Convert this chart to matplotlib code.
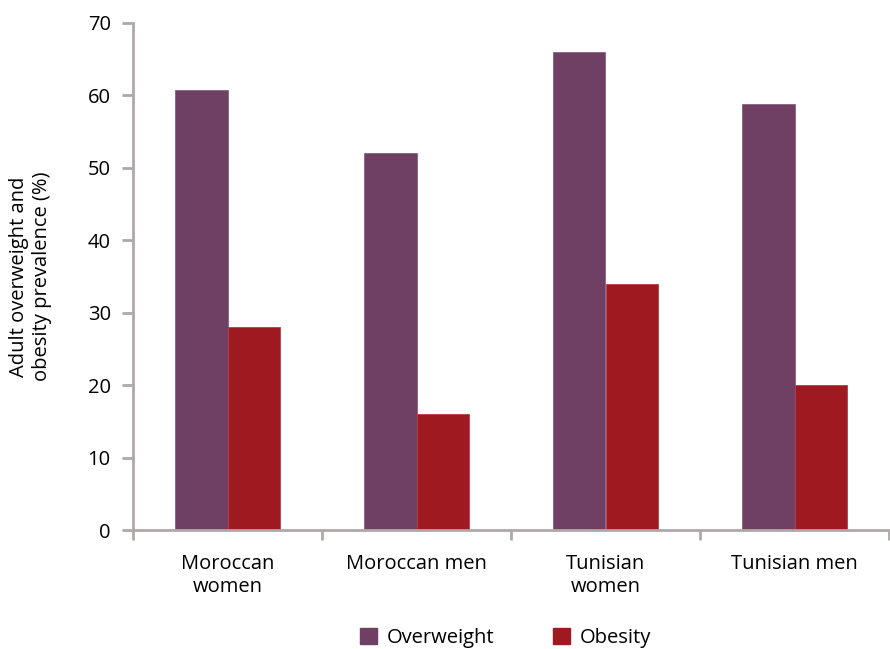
import numpy as np
import matplotlib.pyplot as plt
from matplotlib.patches import Patch

groups = ['Moroccan\nwomen', 'Moroccan men', 'Tunisian\nwomen', 'Tunisian men']
overweight = [60.8, 52.0, 66.0, 58.8]
obesity = [28.0, 16.0, 34.0, 20.0]

plt.rcParams['font.family'] = ['Open Sans', 'DejaVu Sans']

c_over = '#6f3f64'
c_obes = '#9e1a20'
axis_col = '#b0a8a8'

fig = plt.figure(figsize=(8.9, 6.49), dpi=100)
ax = fig.add_axes([133 / 890, 1 - 530 / 649, 756 / 890, 507 / 649])

x = np.arange(len(groups))
w = 0.28
ax.bar(x - w / 2, overweight, width=w, color=c_over, edgecolor='#8a6080', linewidth=0.6)
ax.bar(x + w / 2, obesity, width=w, color=c_obes, edgecolor='#b04048', linewidth=0.6)

ax.set_xlim(-0.5, 3.5)
ax.set_ylim(0, 70)
ax.set_yticks(range(0, 71, 10))
ax.set_xticks(x)
ax.set_xticklabels(groups, fontsize=14.5, linespacing=1.2)
ax.set_xticks(np.arange(-0.5, 3.6, 1), minor=True)
ax.tick_params(axis='x', which='major', length=0, pad=17)
ax.tick_params(axis='x', which='minor', length=7, width=2, color=axis_col)
ax.tick_params(axis='y', length=8, width=2, color=axis_col, labelsize=14.5, pad=8)

for s in ['top', 'right']:
    ax.spines[s].set_visible(False)
for s in ['left', 'bottom']:
    ax.spines[s].set_color(axis_col)
    ax.spines[s].set_linewidth(2)

ax.set_ylabel('Adult overweight and\nobesity prevalence (%)', fontsize=14.5, labelpad=26, linespacing=1.15)

handles = [Patch(color=c_over, label='Overweight'), Patch(color=c_obes, label='Obesity')]
fig.legend(handles=handles, loc='lower center', bbox_to_anchor=(0.568, -0.027), ncol=2,
           frameon=False, fontsize=14.5, handlelength=0.85, handleheight=0.85,
           columnspacing=2.9, handletextpad=0.5)

fig.savefig('out.png', dpi=100)
